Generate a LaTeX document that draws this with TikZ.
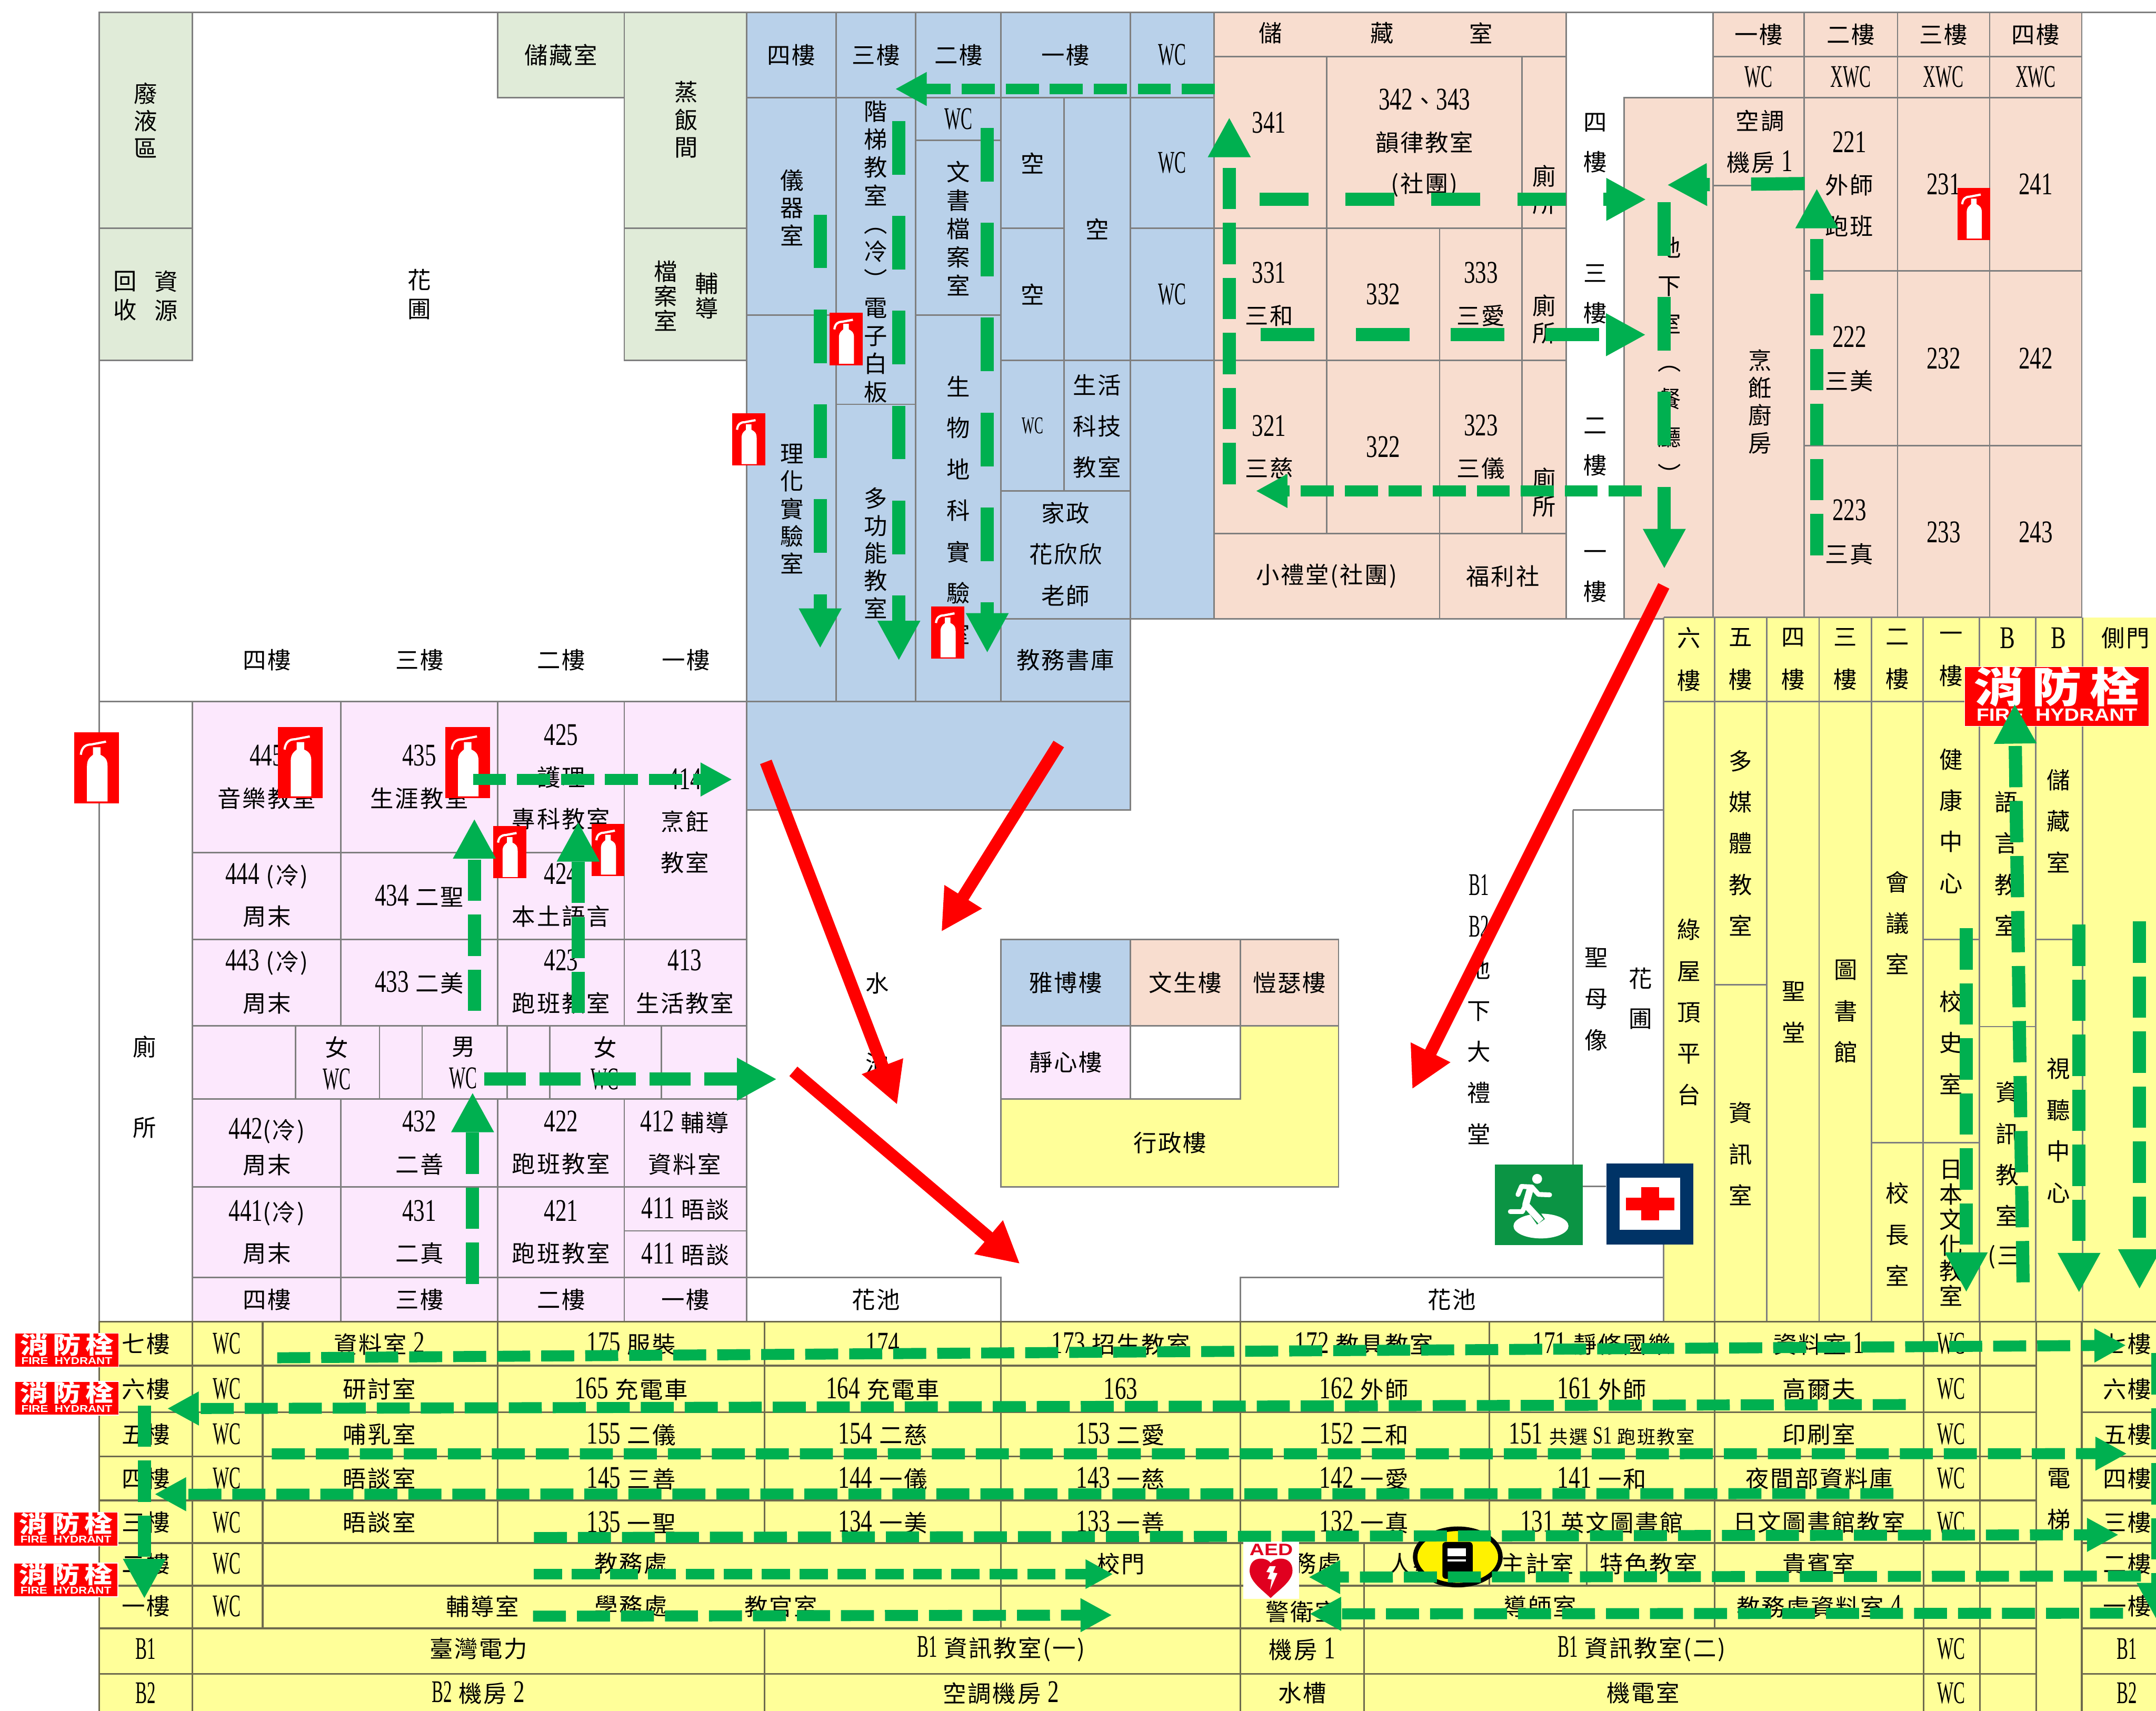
\documentclass[tikz,border=0pt]{standalone}
\usepackage{fontspec}
\usepackage{xcolor}
\usepackage{tikz}
\usetikzlibrary{arrows.meta}
\setmainfont[LetterSpace=6]{Noto Sans CJK TC}
\newfontfamily\latinfont[FakeStretch=0.72,Scale=1.35]{Liberation Serif}
\newfontfamily\wcfont[FakeStretch=0.55,Scale=1.35]{Liberation Serif}
\newfontfamily\signfont{Liberation Sans}
\newcommand{\nm}[1]{{\latinfont #1}}
\newcommand{\wc}[1]{{\wcfont #1}}
\definecolor{greenzone}{HTML}{E0EBD8}
\definecolor{bluezone}{HTML}{B9D1EA}
\definecolor{orangezone}{HTML}{F8DDCF}
\definecolor{pinkzone}{HTML}{FCE8FD}
\definecolor{yellowzone}{HTML}{FFFF99}
\definecolor{cellgrey}{HTML}{7F7F7F}
\definecolor{rowline}{HTML}{6E6B4E}
\definecolor{exitgreen}{HTML}{00B050}
\definecolor{signgreen}{HTML}{0B9444}
\definecolor{navybox}{HTML}{003366}
\definecolor{aedred}{HTML}{E0001F}
\tikzset{
  wall/.style={draw=cellgrey,line width=1.1pt},
  greencell/.style={wall,fill=greenzone},
  bluecell/.style={wall,fill=bluezone},
  orangecell/.style={wall,fill=orangezone},
  pinkcell/.style={wall,fill=pinkzone},
  yellowcell/.style={wall,fill=yellowzone},
  rowgrid/.style={draw=rowline,line width=1.2pt},
  stack/.style={font=\fontsize{17}{#1}\selectfont},
  exitfine/.style={draw=exitgreen,line width=8pt,dash pattern=on 24pt off 8pt,-{Triangle[length=23pt,width=23pt]},exitgreen},
  exitmid/.style={draw=exitgreen,line width=9.6pt,dash pattern=on 30pt off 10pt,-{Triangle[length=29pt,width=29pt]},exitgreen},
  exitlong/.style={draw=exitgreen,line width=9.6pt,dash pattern=on 39pt off 30pt,-{Triangle[length=29pt,width=29pt]},exitgreen},
  firearrow/.style={draw=red,line width=9pt,-{Triangle[length=30pt,width=30pt]},red},
  extbox/.pic={
    \fill[red] (0,0) rectangle (24,38);
    \fill[white] (6.8,37) -- (6.8,18) .. controls (6.8,14) and (9,13) .. (10,12) -- (10,8) -- (14,8) -- (14,12) .. controls (16,13) and (17.8,14) .. (17.8,18) -- (17.8,37) -- cycle;
    \draw[white,line width=1.6pt] (3.5,12) .. controls (4,8) and (6,6.5) .. (9,6.5) -- (17,5);
  },
  hydrantsign/.pic={
    \draw[white,line width=.5pt,fill=red] (0,0) rectangle (75.7,24.5);
    \node[text=white,transform shape] at (37.85,8.2) {\resizebox{68pt}{15pt}{\bfseries 消\,防\,栓}};
    \node[text=white,transform shape] at (37.85,19.9) {\resizebox{66pt}{5pt}{\signfont\bfseries FIRE\ \ HYDRANT}};
  }
}
\begin{document}
\begin{tikzpicture}[x=1pt,y=-1pt,every node/.style={font=\fontsize{17}{21}\selectfont,align=center,inner sep=0pt}]
\clip (0,0) rectangle (1568,1244);
\fill[white] (0,0) rectangle (1568,1244);
% outer lines
\draw[wall] (72,9) -- (1568,9);
\draw[wall] (72,9) -- (72,961);
\draw[wall] (72,510) -- (140,510);
\draw[wall] (140,510) -- (140,961);
\draw[wall] (1139,450) -- (1181,450);
\draw[wall] (1144,589) -- (1210,589);
\draw[wall] (1144,589) -- (1144,862.5) -- (1168,862.5);
\draw[wall] (543,929) -- (728,929) -- (728,961);
\draw[wall] (902,961) -- (902,929) -- (1210,929);
% green zone
\draw[greencell] (72,9) rectangle (140,166) node[midway,stack=20]{廢\\液\\區};
\draw[greencell] (72,166) rectangle (140,262);
\node[stack=21] at (91,215) {回\\收};
\node[stack=21] at (121,215) {資\\源};
\draw[greencell] (362,9) rectangle (454,71) node[midway]{儲藏室};
\draw[greencell] (454,9) rectangle (543,166);
\node[stack=20] at (499,87) {蒸\\飯\\間};
\draw[greencell] (454,166) rectangle (543,262);
\node[stack=18] at (484,215) {檔\\案\\室};
\node[stack=18] at (514,215) {輔\\導};
\node[stack=21] at (305,214) {花\\圃};
\node at (194,480) {四樓};
\node at (305,480) {三樓};
\node at (408,480) {二樓};
\node at (499,480) {一樓};
% blue zone
\draw[bluecell] (543,9) rectangle (608,71) node[midway]{四樓};
\draw[bluecell] (608,9) rectangle (666,71) node[midway]{三樓};
\draw[bluecell] (666,9) rectangle (728,71) node[midway]{二樓};
\draw[bluecell] (728,9) rectangle (822,71) node[midway]{一樓};
\draw[bluecell] (822,9) rectangle (883,71) node[midway]{\wc{WC}};
\draw[bluecell] (543,71) rectangle (608,229);
\node[stack=20] at (576,151) {儀\\器\\室};
\draw[bluecell] (543,229) rectangle (608,510);
\node[stack=20] at (576,370) {理\\化\\實\\驗\\室};
\draw[bluecell] (608,71) rectangle (666,294);
\node[stack=20.4] at (637,183) {階\\梯\\教\\室\\︵\\冷\\︶\\電\\子\\白\\板};
\draw[bluecell] (608,294) rectangle (666,510);
\node[stack=20] at (637,402) {多\\功\\能\\教\\室};
\draw[bluecell] (666,71) rectangle (728,102) node[midway]{\wc{WC}};
\draw[bluecell] (666,102) rectangle (728,229);
\node[stack=20.7] at (697,166) {文\\書\\檔\\案\\室};
\draw[bluecell] (666,229) rectangle (728,510);
\node[stack=30] at (697,371) {生\\物\\地\\科\\實\\驗\\室};
\draw[bluecell] (728,71) rectangle (774,166) node[midway]{空};
\draw[bluecell] (728,166) rectangle (774,262) node[midway]{空};
\draw[bluecell] (774,71) rectangle (822,262) node[midway]{空};
\draw[bluecell] (728,262) rectangle (774,357) node[midway]{\fontsize{13}{13}\selectfont\wc{WC}};
\draw[bluecell] (774,262) rectangle (822,357);
\node[stack=30] at (798,310) {生活\\科技\\教室};
\draw[bluecell] (728,357) rectangle (822,450);
\node[stack=30] at (775,403) {家政\\花欣欣\\老師};
\draw[bluecell] (728,450) rectangle (822,510) node[midway]{教務書庫};
\draw[bluecell] (822,71) rectangle (883,166) node[midway]{\wc{WC}};
\draw[bluecell] (822,166) rectangle (883,262) node[midway]{\wc{WC}};
\draw[bluecell] (822,262) rectangle (883,450);
\draw[bluecell] (543,510) rectangle (822,589);
% orange zone
\draw[orangecell] (883,9) rectangle (1139,41);
\node at (924,24) {儲};
\node at (1005,24) {藏};
\node at (1077,24) {室};
\draw[orangecell] (883,41) rectangle (965,166);
\node at (923,89) {\nm{341}};
\draw[orangecell] (965,41) rectangle (1107,166);
\node[stack=30] at (1036,104) {\nm{342}、\nm{343}\\韻律教室\\(社團)};
\draw[orangecell] (1107,41) rectangle (1139,166);
\node[stack=20] at (1123,138) {廁\\所};
\draw[orangecell] (883,166) rectangle (965,262);
\node[stack=30] at (923,214) {\nm{331}\\三和};
\draw[orangecell] (965,166) rectangle (1047,262) node[midway]{\nm{332}};
\draw[orangecell] (1047,166) rectangle (1107,262);
\node[stack=30] at (1077,214) {\nm{333}\\三愛};
\draw[orangecell] (1107,166) rectangle (1139,262);
\node[stack=20] at (1123,232) {廁\\所};
\draw[orangecell] (883,262) rectangle (965,388);
\node[stack=30] at (923,325) {\nm{321}\\三慈};
\draw[orangecell] (965,262) rectangle (1047,388) node[midway]{\nm{322}};
\draw[orangecell] (1047,262) rectangle (1107,388);
\node[stack=30] at (1077,325) {\nm{323}\\三儀};
\draw[orangecell] (1107,262) rectangle (1139,388);
\node[stack=20] at (1123,358) {廁\\所};
\draw[orangecell] (883,388) rectangle (1047,450) node[midway]{小禮堂(社團)};
\draw[orangecell] (1047,388) rectangle (1139,450) node[midway]{福利社};
\node[stack=29] at (1160,104) {四\\樓};
\node[stack=29] at (1160,214) {三\\樓};
\node[stack=29] at (1160,325) {二\\樓};
\node[stack=29] at (1160,419) {一\\樓};
\draw[orangecell] (1181,71) rectangle (1246,450);
\node[stack=27.5] at (1214,262) {地\\下\\室\\︵\\餐\\廳\\︶};
\draw[orangecell] (1246,9) rectangle (1312,41) node[midway]{一樓};
\draw[orangecell] (1312,9) rectangle (1380,41) node[midway]{二樓};
\draw[orangecell] (1380,9) rectangle (1447,41) node[midway]{三樓};
\draw[orangecell] (1447,9) rectangle (1514,41) node[midway]{四樓};
\draw[orangecell] (1246,41) rectangle (1312,71) node[midway]{\wc{WC}};
\draw[orangecell] (1312,41) rectangle (1380,71) node[midway]{\wc{XWC}};
\draw[orangecell] (1380,41) rectangle (1447,71) node[midway]{\wc{XWC}};
\draw[orangecell] (1447,41) rectangle (1514,71) node[midway]{\wc{XWC}};
\draw[orangecell] (1246,71) rectangle (1312,135);
\node[stack=30] at (1280,103) {空調\\機房 \nm{1}};
\draw[orangecell] (1246,135) rectangle (1312,450);
\node[stack=20] at (1280,292) {烹\\餁\\廚\\房};
\draw[orangecell] (1312,71) rectangle (1380,197);
\node[stack=30] at (1345,134) {\nm{221}\\外師\\跑班};
\draw[orangecell] (1312,197) rectangle (1380,324);
\node[stack=31] at (1345,261) {\nm{222}\\三美};
\draw[orangecell] (1312,324) rectangle (1380,450);
\node[stack=31] at (1345,387) {\nm{223}\\三真};
\draw[orangecell] (1380,71) rectangle (1447,197) node[midway]{\nm{231}};
\draw[orangecell] (1380,197) rectangle (1447,324) node[midway]{\nm{232}};
\draw[orangecell] (1380,324) rectangle (1447,450) node[midway]{\nm{233}};
\draw[orangecell] (1447,71) rectangle (1514,197) node[midway]{\nm{241}};
\draw[orangecell] (1447,197) rectangle (1514,324) node[midway]{\nm{242}};
\draw[orangecell] (1447,324) rectangle (1514,450) node[midway]{\nm{243}};
% pink zone
\draw[pinkcell] (140,510) rectangle (248,620);
\node[stack=30] at (194,565) {\nm{445}\\音樂教室};
\draw[pinkcell] (248,510) rectangle (362,620);
\node[stack=30] at (305,565) {\nm{435}\\生涯教室};
\draw[pinkcell] (362,510) rectangle (454,620);
\node[stack=30] at (408,565) {\nm{425}\\護理\\專科教室};
\draw[pinkcell] (454,510) rectangle (543,683);
\node[stack=30] at (498,597) {\nm{414}\\烹飪\\教室};
\draw[pinkcell] (140,620) rectangle (248,683);
\node[stack=30] at (194,651) {\nm{444} (冷)\\周末};
\draw[pinkcell] (248,620) rectangle (362,683) node[midway]{\nm{434} 二聖};
\draw[pinkcell] (362,620) rectangle (454,683);
\node[stack=30] at (408,651) {\nm{424}\\本土語言};
\draw[pinkcell] (140,683) rectangle (248,746);
\node[stack=30] at (194,714) {\nm{443} (冷)\\周末};
\draw[pinkcell] (248,683) rectangle (362,746) node[midway]{\nm{433} 二美};
\draw[pinkcell] (362,683) rectangle (454,746);
\node[stack=30] at (408,714) {\nm{423}\\跑班教室};
\draw[pinkcell] (454,683) rectangle (543,746);
\node[stack=30] at (498,714) {\nm{413}\\生活教室};
\draw[pinkcell] (140,746) rectangle (215,799);
\draw[pinkcell] (215,746) rectangle (276,799);
\node[stack=24] at (245,773) {女\\\wc{WC}};
\draw[pinkcell] (276,746) rectangle (307,799);
\draw[pinkcell] (307,746) rectangle (369,799);
\node[stack=24] at (337,773) {男\\\wc{WC}};
\draw[pinkcell] (369,746) rectangle (400,799);
\draw[pinkcell] (400,746) rectangle (481,799);
\node[stack=24] at (440,773) {女\\\wc{WC}};
\draw[pinkcell] (481,746) rectangle (543,799);
\draw[pinkcell] (140,799) rectangle (248,863);
\node[stack=25] at (194,834) {\nm{442}(冷)\\周末};
\draw[pinkcell] (248,799) rectangle (362,863);
\node[stack=30] at (305,831) {\nm{432}\\二善};
\draw[pinkcell] (362,799) rectangle (454,863);
\node[stack=30] at (408,831) {\nm{422}\\跑班教室};
\draw[pinkcell] (454,799) rectangle (543,863);
\node[stack=30] at (498,831) {\nm{412} 輔導\\資料室};
\draw[pinkcell] (140,863) rectangle (248,929);
\node[stack=30] at (194,896) {\nm{441}(冷)\\周末};
\draw[pinkcell] (248,863) rectangle (362,929);
\node[stack=30] at (305,896) {\nm{431}\\二真};
\draw[pinkcell] (362,863) rectangle (454,929);
\node[stack=30] at (408,896) {\nm{421}\\跑班教室};
\draw[pinkcell] (454,863) rectangle (543,895) node[midway]{\nm{411} 晤談};
\draw[pinkcell] (454,895) rectangle (543,929) node[midway]{\nm{411} 晤談};
\draw[pinkcell] (140,929) rectangle (248,961) node[midway]{四樓};
\draw[pinkcell] (248,929) rectangle (362,961) node[midway]{三樓};
\draw[pinkcell] (362,929) rectangle (454,961) node[midway]{二樓};
\draw[pinkcell] (454,929) rectangle (543,961) node[midway]{一樓};
\node at (105,761) {廁};
\node at (105,820) {所};
\node at (637,945) {花池};
\node at (1056,945) {花池};
\node at (638,715) {水};
\node at (638,773) {池};
\node[stack=30] at (1075.5,734) {\wc{B1}\\\wc{B2}\\地\\下\\大\\禮\\堂};
\node[stack=30] at (1161,726.5) {聖\\母\\像};
\node[stack=29] at (1193,726) {花\\圃};
% campus legend
\draw[yellowcell] (728,799) -- (902,799) -- (902,746) -- (973.5,746) -- (973.5,863) -- (728,863) -- cycle;
\node at (851,831) {行政樓};
\draw[bluecell] (728,683) rectangle (822,746) node[midway]{雅博樓};
\draw[orangecell] (822,683) rectangle (902,746) node[midway]{文生樓};
\draw[orangecell] (902,683) rectangle (973.5,746) node[midway]{愷瑟樓};
\draw[pinkcell] (728,746) rectangle (822,799) node[midway]{靜心樓};
\draw[wall] (822,746) rectangle (902,799);
% yellow wing
\fill[yellowzone] (1210,449) rectangle (1568,961);
\fill[yellowzone] (72,961) rectangle (1568,1244);
\draw[wall] (1210,449) -- (1514,449);
\draw[wall] (1210,510) -- (1514,510);
\draw[wall] (1210,449) -- (1210,961);
\draw[wall] (1247,449) -- (1247,961);
\draw[wall] (1285,449) -- (1285,961);
\draw[wall] (1323,449) -- (1323,961);
\draw[wall] (1361,449) -- (1361,961);
\draw[wall] (1398.5,449) -- (1398.5,961);
\draw[wall] (1439.5,449) -- (1439.5,961);
\draw[wall] (1480.5,449) -- (1480.5,961);
\draw[wall] (1514.5,449) -- (1514.5,961);
\draw[wall] (1247,716) -- (1285,716);
\draw[wall] (1361,831) -- (1439.5,831);
\draw[wall] (1398.5,683) -- (1439.5,683);
\draw[wall] (1439.5,746.5) -- (1480.5,746.5);
\draw[wall] (1480.5,683) -- (1514.5,683);
\node[stack=31] at (1228.5,479.5) {六\\樓};
\node[stack=31] at (1266,479.5) {五\\樓};
\node[stack=31] at (1304,479.5) {四\\樓};
\node[stack=31] at (1342,479.5) {三\\樓};
\node[stack=31] at (1380,479.5) {二\\樓};
\node[stack=31] at (1419,479.5) {一\\樓};
\node at (1460,464) {\nm{B}};
\node at (1497,464) {\nm{B}};
\node at (1546,464) {側門};
\node[stack=30] at (1228.5,736) {綠\\屋\\頂\\平\\台};
\node[stack=30] at (1266,613) {多\\媒\\體\\教\\室};
\node[stack=30] at (1266,839) {資\\訊\\室};
\node[stack=30] at (1304.5,736) {聖\\堂};
\node[stack=30] at (1342.5,735.5) {圖\\書\\館};
\node[stack=30] at (1380,671) {會\\議\\室};
\node[stack=30] at (1380,897.5) {校\\長\\室};
\node[stack=30] at (1419,597) {健\\康\\中\\心};
\node[stack=30] at (1419,758) {校\\史\\室};
\node[stack=18.5] at (1419,896.5) {日\\本\\文\\化\\教\\室};
\node[stack=30] at (1459,628) {語\\言\\教\\室};
\node[stack=30] at (1460,839) {資\\訊\\教\\室};
\node at (1461,914) {(三)};
\node[stack=30] at (1497,597) {儲\\藏\\室};
\node[stack=30] at (1497,822) {視\\聽\\中\\心};
% main building table
\draw[rowgrid] (72,961) -- (1568,961);
\draw[rowgrid] (72,993) -- (1481,993);
\draw[rowgrid] (72,1027) -- (1481,1027);
\draw[rowgrid] (72,1059) -- (1481,1059);
\draw[rowgrid] (72,1091) -- (1481,1091);
\draw[rowgrid] (72,1122) -- (1481,1122);
\draw[rowgrid] (72,1153) -- (1481,1153);
\draw[rowgrid] (72,1184) -- (1481,1184);
\draw[rowgrid] (72,1217) -- (1481,1217);
\draw[rowgrid] (1514,993) -- (1568,993);
\draw[rowgrid] (1514,1027) -- (1568,1027);
\draw[rowgrid] (1514,1059) -- (1568,1059);
\draw[rowgrid] (1514,1091) -- (1568,1091);
\draw[rowgrid] (1514,1122) -- (1568,1122);
\draw[rowgrid] (1514,1153) -- (1568,1153);
\draw[rowgrid] (1514,1184) -- (1568,1184);
\draw[rowgrid] (1514,1217) -- (1568,1217);
\draw[rowgrid] (72,961) -- (72,1244);
\draw[rowgrid] (140,961) -- (140,1244);
\draw[rowgrid] (191,961) -- (191,1184);
\draw[rowgrid] (362,961) -- (362,1122);
\draw[rowgrid] (556,961) -- (556,1122);
\draw[rowgrid] (556,1184) -- (556,1244);
\draw[rowgrid] (728,961) -- (728,1184);
\draw[rowgrid] (902,961) -- (902,1244);
\draw[rowgrid] (992,1122) -- (992,1244);
\draw[rowgrid] (1083,961) -- (1083,1153);
\draw[rowgrid] (1154,1122) -- (1154,1153);
\draw[rowgrid] (1247,961) -- (1247,1184);
\draw[rowgrid] (1399,961) -- (1399,1244);
\draw[rowgrid] (1440,961) -- (1440,1244);
\draw[rowgrid] (1481,961) -- (1481,1244);
\draw[rowgrid] (1514,961) -- (1514,1244);
\node at (106,977) {七樓};
\node at (165,977) {\wc{WC}};
\node at (276,977) {資料室 \nm{2}};
\node at (459,977) {\nm{175} 服裝};
\node at (642,977) {\nm{174}};
\node at (815,977) {\nm{173} 招生教室};
\node at (992,977) {\nm{172} 教具教室};
\node at (1165,977) {\nm{171} 靜修國樂};
\node at (1323,977) {資料室 \nm{1}};
\node at (1419,977) {\wc{WC}};
\node at (1547,977) {七樓};
\node at (106,1010) {六樓};
\node at (165,1010) {\wc{WC}};
\node at (276,1010) {研討室};
\node at (459,1010) {\nm{165} 充電車};
\node at (642,1010) {\nm{164} 充電車};
\node at (815,1010) {\nm{163}};
\node at (992,1010) {\nm{162} 外師};
\node at (1165,1010) {\nm{161} 外師};
\node at (1323,1010) {高爾夫};
\node at (1419,1010) {\wc{WC}};
\node at (1547,1010) {六樓};
\node at (106,1043) {五樓};
\node at (165,1043) {\wc{WC}};
\node at (276,1043) {哺乳室};
\node at (459,1043) {\nm{155} 二儀};
\node at (642,1043) {\nm{154} 二慈};
\node at (815,1043) {\nm{153} 二愛};
\node at (992,1043) {\nm{152} 二和};
\node[font=\fontsize{13.5}{14}\selectfont] at (1165,1043) {\fontsize{17}{17}\selectfont\nm{151} \fontsize{13.5}{14}\selectfont 共選 \nm{S1} 跑班教室};
\node at (1323,1043) {印刷室};
\node at (1419,1043) {\wc{WC}};
\node at (1547,1043) {五樓};
\node at (106,1075) {四樓};
\node at (165,1075) {\wc{WC}};
\node at (276,1075) {晤談室};
\node at (459,1075) {\nm{145} 三善};
\node at (642,1075) {\nm{144} 一儀};
\node at (815,1075) {\nm{143} 一慈};
\node at (992,1075) {\nm{142} 一愛};
\node at (1165,1075) {\nm{141} 一和};
\node at (1323,1075) {夜間部資料庫};
\node at (1419,1075) {\wc{WC}};
\node at (1547,1075) {四樓};
\node at (106,1107) {三樓};
\node at (165,1107) {\wc{WC}};
\node at (276,1107) {晤談室};
\node at (459,1107) {\nm{135} 一聖};
\node at (642,1107) {\nm{134} 一美};
\node at (815,1107) {\nm{133} 一善};
\node at (992,1107) {\nm{132} 一真};
\node at (1165,1107) {\nm{131} 英文圖書館};
\node at (1323,1107) {日文圖書館教室};
\node at (1419,1107) {\wc{WC}};
\node at (1547,1107) {三樓};
\node at (106,1137) {二樓};
\node at (165,1137) {\wc{WC}};
\node at (459,1137) {教務處};
\node at (815,1137) {校門};
\node at (958,1137) {務處};
\node at (1036,1137) {人事室};
\node at (1118,1137) {主計室};
\node at (1199,1137) {特色教室};
\node at (1323,1137) {貴賓室};
\node at (1547,1137) {二樓};
\node at (106,1168) {一樓};
\node at (165,1168) {\wc{WC}};
\node at (351,1168) {輔導室};
\node at (459,1168) {學務處};
\node at (568,1168) {教官室};
\node at (947,1172) {警衛室};
\node at (1120,1168) {導師室};
\node at (1323,1168) {教務處資料室 \nm{4}};
\node at (1547,1168) {一樓};
\node at (106,1199) {\wc{B1}};
\node at (348,1199) {臺灣電力};
\node at (728,1199) {\wc{B1} 資訊教室(一)};
\node at (947,1199) {機房 \nm{1}};
\node at (1194,1199) {\wc{B1} 資訊教室(二)};
\node at (1419,1199) {\wc{WC}};
\node at (1547,1199) {\wc{B1}};
\node at (106,1231) {\wc{B2}};
\node at (348,1231) {\wc{B2} 機房 \nm{2}};
\node at (728,1231) {空調機房 \nm{2}};
\node at (947,1231) {水槽};
\node at (1195,1231) {機電室};
\node at (1419,1231) {\wc{WC}};
\node at (1547,1231) {\wc{B2}};
\node at (1497.5,1075) {電};
\node at (1497.5,1105) {梯};
% signs
\pic at (532.5,300.5) {extbox};
\pic at (603.3,227.5) {extbox};
\pic at (677.2,441) {extbox};
\pic at (1423.5,136.5) {extbox};
\pic at (358.7,600.7) {extbox};
\pic at (430.2,599) {extbox};
\pic[scale=1.36] at (54,532.5) {extbox};
\pic[scale=1.36] at (202.2,528.7) {extbox};
\pic[scale=1.36] at (323.8,528.7) {extbox};
\pic at (10.7,969.5) {hydrantsign};
\pic at (10.7,1004.5) {hydrantsign};
\pic at (10,1099.6) {hydrantsign};
\pic at (10,1136.6) {hydrantsign};
\pic[scale=1.77] at (1428.8,484.8) {hydrantsign};
% running man sign
\fill[signgreen] (1087,846.7) rectangle (1151,905.3);
\fill[white] (1120.7,891.5) ellipse [x radius=20,y radius=9];
\fill[white] (1117.9,857.2) circle (3.6);
\draw[signgreen,line width=7pt] (1112,876) -- (1120.7,888.4);
\draw[white,line width=5pt,line join=round] (1113.3,863) -- (1109.6,876) -- (1120.7,888);
\draw[white,line width=3.5pt,line cap=round,line join=round] (1113,863) -- (1106.5,862.7) -- (1104,868.6);
\draw[white,line width=3.5pt,line cap=round,line join=round] (1114,863) -- (1118.9,868.5) -- (1127,868.8);
\draw[white,line width=3.5pt,line cap=round,line join=round] (1109.6,876) -- (1107.1,881) -- (1098.4,881);
% first aid sign
\fill[navybox] (1168.4,846) rectangle (1231.6,905);
\fill[white] (1178,856.5) rectangle (1222,894.4);
\fill[red] (1182.4,871) rectangle (1217.6,880);
\fill[red] (1193.6,863.4) rectangle (1206.5,887.4);
% lift sign
\draw[black,line width=3.3pt,fill=yellow] (1060.2,1132.1) ellipse [x radius=31,y radius=20.5];
\fill[black,rounded corners=2.5pt] (1049,1121.2) rectangle (1071,1148);
\fill[white] (1052.9,1125.8) rectangle (1066.2,1131.4);
\fill[white] (1052.9,1134) rectangle (1066.2,1135.5);
% AED sign
\fill[white] (904.2,1121) rectangle (944.9,1162.4);
\node[text=aedred] (aedlabel) at (924.5,1126.7) {\resizebox{31.5pt}{8.3pt}{\signfont\bfseries AED}};
\fill[aedred] (924.1,1136.5) .. controls (921,1132) and (909,1131) .. (908.8,1142) .. controls (908.8,1150) and (918,1156) .. (924.1,1162) .. controls (930,1156) and (940,1150) .. (940,1142) .. controls (940,1131) and (927,1132) .. (924.1,1136.5) -- cycle;
\fill[white] (923.4,1138.8) -- (927.8,1138.8) -- (925.8,1143.5) -- (929,1144) -- (923.7,1156) -- (924.8,1148.5) -- (921.8,1148) -- (923.8,1143.5) -- (921,1143) -- cycle;
% escape routes
\draw[exitfine] (883.5,64.7) -- (651,64.7);
\draw[exitlong] (596.5,156) -- (596.5,471.4);
\draw[exitlong] (653.7,88) -- (653.7,480.4);
\draw[exitlong] (718,93) -- (718,474.8);
\draw[exitmid] (894,352) -- (894,85.3);
\draw[exitlong,dash pattern=on 35.5pt off 27pt] (916,145) -- (1197.2,145);
\draw[exitlong] (917,243.4) -- (1197,243.4);
\draw[exitfine] (1194,357) -- (913.3,357);
\draw[exitlong] (1210.4,147) -- (1210.4,413.6);
\draw[exitlong] (1312.5,133.5) -- (1212.4,134.5);
\draw[exitmid] (1321.3,403.7) -- (1321.3,137);
\draw[exitfine] (344,566.8) -- (532.5,566.8);
\draw[exitmid] (345,735) -- (345,595.3);
\draw[exitmid] (420.5,736.7) -- (420.5,597.5);
\draw[exitmid] (352.3,784.7) -- (565,784.7);
\draw[exitmid] (343.7,933.5) -- (343.7,794.3);
\draw[exitfine] (201.6,987.3) -- (1546.2,978.2);
\draw[exitfine] (1386,1021.3) -- (121.6,1024.2);
\draw[exitfine] (197.7,1057.2) -- (1546.9,1057);
\draw[exitfine] (1377,1086) -- (112.4,1086.5);
\draw[exitfine] (388.3,1118) -- (1540.8,1116);
\draw[exitfine,dash pattern=on 20.6pt off 7pt,-{Triangle[length=20pt,width=20pt]}] (388.3,1144.6) -- (809.5,1144.6);
\draw[exitfine] (387.6,1175.2) -- (808.8,1174.4);
\draw[exitfine] (1557,1146) -- (951.7,1146.8);
\draw[exitfine] (1544,1173) -- (952.4,1173.5);
\draw[exitmid] (105,1022) -- (105,1162.5);
\draw[exitmid] (1569.5,984) -- (1569.5,1180);
\draw[exitmid] (1430,675) -- (1430,939.7);
\draw[exitmid] (1471.3,932.4) -- (1465.2,511.7);
\draw[exitmid] (1512,672.4) -- (1512,940);
\draw[exitmid] (1556,670) -- (1556,937.4);
\draw[firearrow] (1210,426) -- (1027,792);
\draw[firearrow] (770,541) -- (684.6,677.5);
\draw[firearrow] (557,554) -- (652.5,803.3);
\draw[firearrow] (577,779) -- (741.8,919);
\end{tikzpicture}
\end{document}
